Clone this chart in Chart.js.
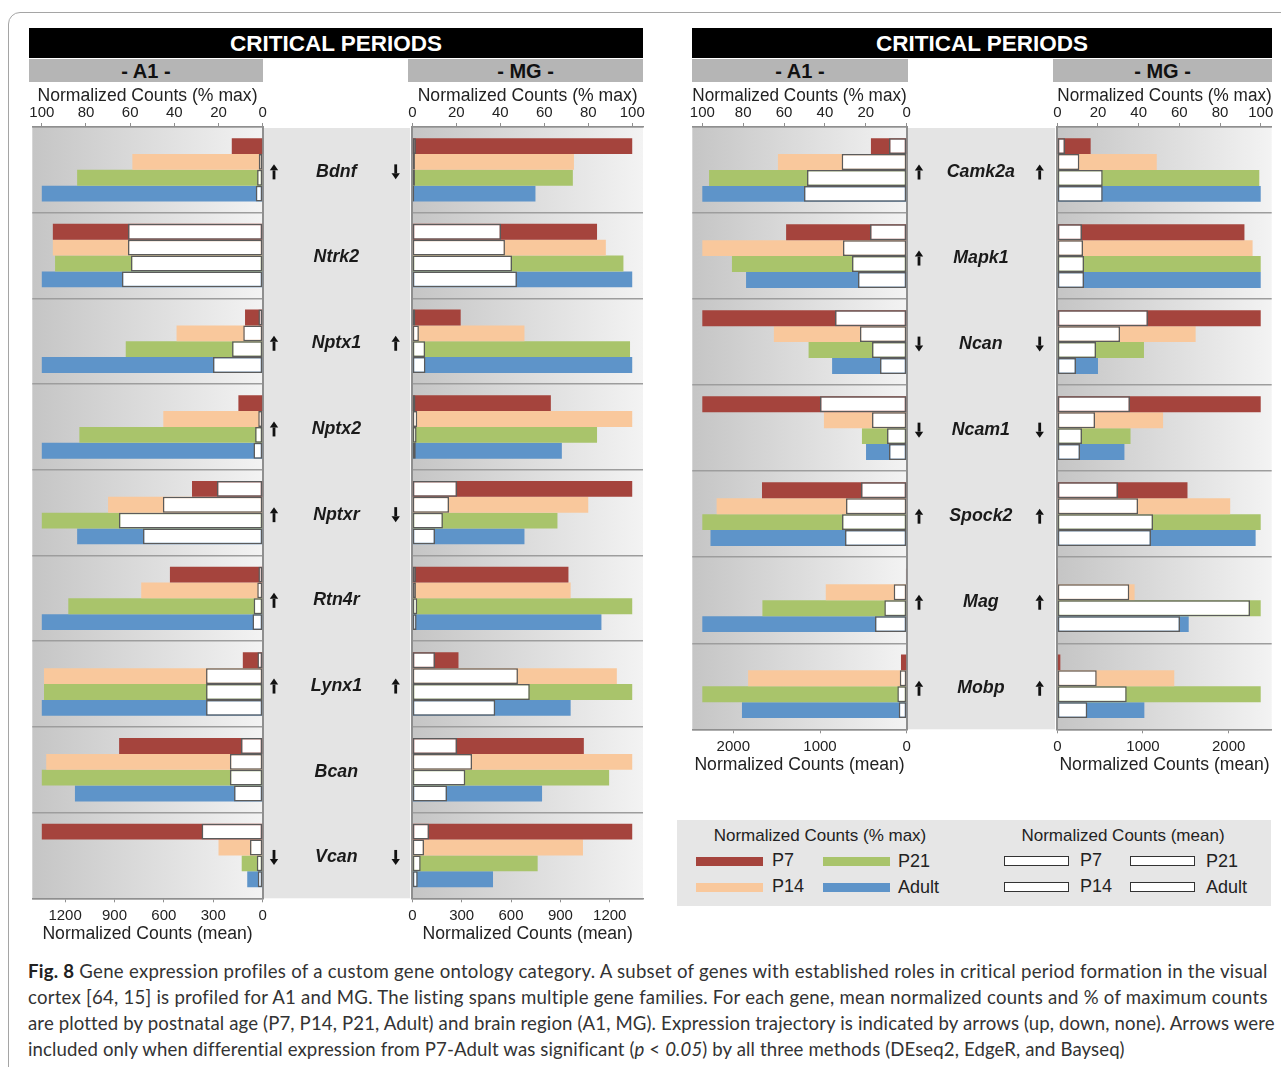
<!DOCTYPE html>
<html>
<head>
<meta charset="utf-8">
<title>Critical periods – gene expression profiles</title>
<script src="https://cdn.jsdelivr.net/npm/chart.js@4.4.1/dist/chart.umd.min.js"></script>
<style>
  html, body { margin: 0; padding: 0; background: #fff; }
  body { position: relative; width: 1281px; height: 1067px; overflow: hidden;
         font-family: "Liberation Sans", Arial, Helvetica, sans-serif; color: #222; }
  .frame { position: absolute; left: 8px; top: 12px; width: 1320px; height: 1100px;
           border: 1px solid #a5a5a5; border-radius: 12px; box-sizing: border-box; }
  .head { position: absolute; top: 28px; height: 30px; background: #000; color: #fff;
          font-weight: bold; font-size: 22.5px; line-height: 31px; text-align: center; }
  .sub { position: absolute; top: 59px; height: 23px; background: #b5b5b5; color: #111;
         font-weight: bold; font-size: 20px; line-height: 24px; text-align: center; }
  canvas { position: absolute; }
  .legend { position: absolute; left: 677px; top: 820px; width: 594px; height: 86px; background: #e6e6e6; }
  .legend .t { position: absolute; top: 6px; font-size: 17px; line-height: 20px; color: #222;
               white-space: nowrap; transform: translateX(-50%); }
  .legend .sw { position: absolute; width: 67px; height: 9px; }
  .legend .ow { position: absolute; width: 63px; height: 8px; background: #fff; border: 1.5px solid #333; }
  .legend .lb { position: absolute; font-size: 18px; line-height: 20px; color: #222; white-space: nowrap; }
  .caption { position: absolute; left: 28px; top: 958px; font-family: Lato, "Open Sans", sans-serif;
             font-size: 18.6px; color: #333; }
  .caption .ln { display: block; height: 26px; line-height: 26px; white-space: nowrap; }
  .caption .ln span.txt { white-space: nowrap; }
</style>
</head>
<body>
<div class="frame"></div>

<div class="head" style="left:29px;width:614px;">CRITICAL PERIODS</div>
<div class="sub" style="left:29px;width:234px;">- A1 -</div>
<div class="sub" style="left:408px;width:235px;">- MG -</div>

<div class="head" style="left:692px;width:580px;">CRITICAL PERIODS</div>
<div class="sub" style="left:692px;width:216px;">- A1 -</div>
<div class="sub" style="left:1053px;width:219px;">- MG -</div>

<canvas id="leftA1" width="382" height="866" style="left:28px;top:82px;width:382px;height:866px;"></canvas>
<canvas id="leftMG" width="246" height="866" style="left:400px;top:82px;width:246px;height:866px;"></canvas>
<canvas id="rightA1" width="371" height="697" style="left:684px;top:82px;width:371px;height:697px;"></canvas>
<canvas id="rightMG" width="236" height="697" style="left:1045px;top:82px;width:236px;height:697px;"></canvas>

<div class="legend">
  <div class="t" style="left:143px;">Normalized Counts (% max)</div>
  <div class="t" style="left:446px;">Normalized Counts (mean)</div>
  <div class="sw" style="left:19px;top:37px;background:#a5443d;"></div>
  <div class="lb" style="left:95px;top:30px;">P7</div>
  <div class="sw" style="left:146px;top:37px;background:#a9c46b;"></div>
  <div class="lb" style="left:221px;top:31px;">P21</div>
  <div class="sw" style="left:19px;top:63px;background:#f9c89c;"></div>
  <div class="lb" style="left:95px;top:56px;">P14</div>
  <div class="sw" style="left:146px;top:63px;background:#5e94c9;"></div>
  <div class="lb" style="left:221px;top:57px;">Adult</div>
  <div class="ow" style="left:327px;top:36px;"></div>
  <div class="lb" style="left:403px;top:30px;">P7</div>
  <div class="ow" style="left:453px;top:36px;"></div>
  <div class="lb" style="left:529px;top:31px;">P21</div>
  <div class="ow" style="left:327px;top:62px;"></div>
  <div class="lb" style="left:403px;top:56px;">P14</div>
  <div class="ow" style="left:453px;top:62px;"></div>
  <div class="lb" style="left:529px;top:57px;">Adult</div>
</div>

<div class="caption">
  <div class="ln" data-w="1240"><span class="txt"><b style="color:#222">Fig. 8</b> Gene expression profiles of a custom gene ontology category. A subset of genes with established roles in critical period formation in the visual</span></div>
  <div class="ln" data-w="1240"><span class="txt">cortex [64, 15] is profiled for A1 and MG. The listing spans multiple gene families. For each gene, mean normalized counts and % of maximum counts</span></div>
  <div class="ln" data-w="1246"><span class="txt">are plotted by postnatal age (P7, P14, P21, Adult) and brain region (A1, MG). Expression trajectory is indicated by arrows (up, down, none). Arrows were</span></div>
  <div class="ln" data-w="1096"><span class="txt">included only when differential expression from P7-Adult was significant (<i>p</i> &lt; <i>0.05</i>) by all three methods (DEseq2, EdgeR, and Bayseq)</span></div>
</div>

<script>
// ---- data -------------------------------------------------------------
const ages = ['P7', 'P14', 'P21', 'Adult'];
const ageColors = ['#a5443d', '#f9c89c', '#a9c46b', '#5e94c9'];

const genesLeft = ['Bdnf', 'Ntrk2', 'Nptx1', 'Nptx2', 'Nptxr', 'Rtn4r', 'Lynx1', 'Bcan', 'Vcan'];
const genesRight = ['Camk2a', 'Mapk1', 'Ncan', 'Ncam1', 'Spock2', 'Mag', 'Mobp'];

const pctTicks = [0, 20, 40, 60, 80, 100];
const countTicksLeft = [0, 300, 600, 900, 1200];
const countTicksRight = [0, 1000, 2000];

// rows: P7, P14, P21, Adult; columns follow the gene lists
const leftA1Pct = [
  [14, 95, 8, 11, 32, 42, 9, 65, 100],
  [59, 95, 39, 45, 70, 55, 99, 98, 20],
  [84, 94, 62, 83, 100, 88, 99, 100, 9.5],
  [100, 100, 100, 100, 84, 100, 100, 85, 7]
];
const leftA1Mean = [
  [6, 818, 26, 6, 278, 26, 32, 132, 371],
  [24, 818, 118, 27, 606, 33, 344, 199, 77],
  [34, 800, 186, 46, 873, 55, 344, 199, 36],
  [42, 855, 302, 56, 727, 62, 344, 174, 30]
];
const leftMGPct = [
  [100, 84, 22, 63, 100, 71, 21, 78, 100],
  [73.5, 88, 51, 100, 80, 72, 93, 100, 77.6],
  [73, 96, 99, 84, 66, 100, 100, 89.5, 57],
  [56, 100, 100, 68, 51, 86, 72, 59, 36.7]
];
const leftMGMean = [
  [22, 539, 18, 19, 272, 22, 138, 272, 102],
  [16, 563, 40, 30, 223, 22, 642, 363, 71],
  [16, 606, 78, 26, 186, 30, 714, 322, 51],
  [12, 636, 80, 21, 138, 26, 504, 211, 33]
];
const rightA1Pct = [
  [17.5, 59, 100, 100, 70.8, 0.3, 2.8],
  [63, 100, 65, 40.5, 93, 39.6, 77.6],
  [96.7, 85.5, 48, 21.9, 100, 70.6, 100],
  [100, 78.6, 36.5, 19.9, 96, 100, 80.6]
];
const rightA1Mean = [
  [204, 423, 827, 1000, 527, 10, 3],
  [750, 735, 539, 400, 700, 150, 80],
  [1150, 631, 400, 227, 746, 258, 108],
  [1185, 562, 308, 204, 712, 366, 92]
];
const rightMGPct = [
  [16.4, 92, 100, 100, 64, 0.3, 1.5],
  [48.9, 96, 68, 52, 85, 38, 57.5],
  [99.3, 100, 42.6, 36, 100, 100, 100],
  [100, 100, 20, 33, 97.5, 64.6, 42.8]
];
const rightMGMean = [
  [90, 288, 1058, 848, 708, 8, 12],
  [257, 300, 732, 440, 942, 840, 460],
  [530, 312, 452, 288, 1117, 2249, 810],
  [530, 312, 218, 265, 1093, 1432, 350]
];

// expression trajectory P7 -> Adult ('' = no significant change)
const leftArrowsA1 = ['up', '', 'up', 'up', 'up', 'up', 'up', '', 'down'];
const leftArrowsMG = ['down', '', 'up', '', 'down', '', 'up', '', 'down'];
const rightArrowsA1 = ['up', 'up', 'down', 'down', 'up', 'up', 'up'];
const rightArrowsMG = ['up', '', 'down', 'down', 'up', 'up', 'up'];

// ---- drawing helpers --------------------------------------------------
Chart.defaults.font.family = '"Liberation Sans", Arial, Helvetica, sans-serif';
Chart.defaults.color = '#222';

function drawArrow(ctx, x, y, dir) {
  if (!dir) return;
  const s = dir === 'up' ? -1 : 1;
  const tip = y + 7.5 * s, base = y + 1.5 * s, tail = y - 7.5 * s;
  ctx.save();
  ctx.strokeStyle = '#111';
  ctx.fillStyle = '#111';
  ctx.lineWidth = 2.8;
  ctx.beginPath();
  ctx.moveTo(x, tail);
  ctx.lineTo(x, base);
  ctx.stroke();
  ctx.beginPath();
  ctx.moveTo(x, tip);
  ctx.lineTo(x - 4.2, base);
  ctx.lineTo(x + 4.2, base);
  ctx.closePath();
  ctx.fill();
  ctx.restore();
}

// shaded plot area, plus the gene-name column for the A1 side
function decor(o) {
  return {
    id: 'decor',
    beforeDraw(chart) {
      const { ctx, chartArea: a } = chart;
      ctx.save();
      const g = ctx.createLinearGradient(a.left, 0, a.right, 0);
      g.addColorStop(0, '#c5c5c5');
      g.addColorStop(1, '#f3f3f3');
      ctx.fillStyle = g;
      ctx.fillRect(a.left, a.top, a.right - a.left, a.bottom - a.top);
      if (o.genes) {
        ctx.fillStyle = '#e4e4e4';
        ctx.fillRect(a.right, a.top + 1, o.middle, a.bottom - a.top - 1);
      }
      ctx.restore();
    },
    afterDraw(chart) {
      if (!o.genes) return;
      const { ctx, chartArea: a, scales: { y } } = chart;
      ctx.save();
      ctx.fillStyle = '#1a1a1a';
      ctx.font = 'italic bold 17.8px "Liberation Sans", Arial, sans-serif';
      ctx.textAlign = 'center';
      ctx.textBaseline = 'middle';
      o.genes.forEach((name, i) => {
        const py = y.getPixelForValue(i) + 2;
        ctx.fillText(name, a.right + o.middle / 2, py);
        drawArrow(ctx, a.right + o.arrowInset, py, o.arrowsA1[i]);
        drawArrow(ctx, a.right + o.middle - o.arrowInset - 3, py, o.arrowsMG[i]);
      });
      ctx.restore();
    }
  };
}

function makeChart(id, o) {
  const a1 = o.region === 'A1';
  const axisGrey = '#8f8f8f';
  const datasets = [];
  // outlined bars: mean normalized counts (drawn on top)
  ages.forEach((age, k) => datasets.push({
    label: age + ' (mean)', data: o.mean[k], xAxisID: 'xc', stack: age, order: 0,
    backgroundColor: '#ffffff', borderColor: '#5b5b5b', borderWidth: 1.5, borderSkipped: false,
    barPercentage: 1, categoryPercentage: 0.74
  }));
  // filled bars: % of maximum
  ages.forEach((age, k) => datasets.push({
    label: age + ' (% max)', data: o.pct[k], xAxisID: 'xp', stack: age, order: 1,
    backgroundColor: ageColors[k], borderWidth: 0,
    barPercentage: 1, categoryPercentage: 0.74
  }));

  return new Chart(document.getElementById(id), {
    type: 'bar',
    data: { labels: o.labels, datasets },
    options: {
      indexAxis: 'y',
      responsive: false,
      animation: false,
      events: [],
      layout: { padding: { left: o.padLeft, right: o.padRight, top: 0, bottom: 0 } },
      plugins: { legend: { display: false }, tooltip: { enabled: false } },
      scales: {
        y: {
          type: 'category', position: a1 ? 'right' : 'left', offset: true,
          grid: { offset: true, color: '#9d9d9d', lineWidth: 1.5, drawTicks: false },
          border: { display: true, color: axisGrey, width: 2 },
          ticks: { display: false },
          afterFit: s => { s.width = o.yWidth; s.paddingTop = 0; s.paddingBottom = 0; }
        },
        xp: {
          type: 'linear', position: 'top', reverse: a1, min: 0, max: o.pctMax, stacked: false,
          grid: { drawOnChartArea: false, drawTicks: true, tickLength: 4, color: axisGrey },
          border: { display: true, color: axisGrey, width: 1.5 },
          ticks: { font: { size: 15 }, color: '#222', padding: 1, maxRotation: 0, autoSkip: false,
                   callback: v => String(v) },
          afterBuildTicks: s => { s.ticks = pctTicks.map(v => ({ value: v })); },
          title: { display: true, text: 'Normalized Counts (% max)', font: { size: 17.6 }, color: '#222',
                   padding: { top: 3.6, bottom: 0 } },
          afterFit: s => { s.height = 45; s.paddingLeft = 0; s.paddingRight = 0; }
        },
        xc: {
          type: 'linear', position: 'bottom', reverse: a1, min: 0, max: o.countMax, stacked: false,
          grid: { drawOnChartArea: false, drawTicks: true, tickLength: 4, color: axisGrey },
          border: { display: true, color: axisGrey, width: 1.5 },
          ticks: { font: { size: 15 }, color: '#222', padding: 4.7, maxRotation: 0, autoSkip: false,
                   callback: v => String(v) },
          afterBuildTicks: s => { s.ticks = o.countTicks.map(v => ({ value: v })); },
          title: { display: true, text: 'Normalized Counts (mean)', font: { size: 17.6 }, color: '#222',
                   padding: { top: 0, bottom: 3 } },
          afterFit: s => { s.height = 49.7; s.paddingLeft = 0; s.paddingRight = 0; }
        }
      }
    },
    plugins: [decor(o)]
  });
}

makeChart('leftA1', {
  region: 'A1', labels: genesLeft, pct: leftA1Pct, mean: leftA1Mean,
  pctMax: 104.3, countMax: 1399, countTicks: countTicksLeft,
  padLeft: 4.3, padRight: 0, yWidth: 147.3,
  genes: genesLeft, middle: 147.3, arrowInset: 11.3, arrowsA1: leftArrowsA1, arrowsMG: leftArrowsMG
});
makeChart('leftMG', {
  region: 'MG', labels: genesLeft, pct: leftMGPct, mean: leftMGMean,
  pctMax: 104.9, countMax: 1402, countTicks: countTicksLeft,
  padLeft: 0, padRight: 3, yWidth: 12.3
});
makeChart('rightA1', {
  region: 'A1', labels: genesRight, pct: rightA1Pct, mean: rightA1Mean,
  pctMax: 104.9, countMax: 2473, countTicks: countTicksRight,
  padLeft: 8.3, padRight: 0, yWidth: 148.3,
  genes: genesRight, middle: 148.3, arrowInset: 12.3, arrowsA1: rightArrowsA1, arrowsMG: rightArrowsMG
});
makeChart('rightMG', {
  region: 'MG', labels: genesRight, pct: rightMGPct, mean: rightMGMean,
  pctMax: 105.4, countMax: 2502, countTicks: countTicksRight,
  padLeft: 0, padRight: 9.3, yWidth: 12.3
});

// spread each caption line to its column width
document.querySelectorAll('.caption .ln').forEach(ln => {
  const span = ln.querySelector('.txt');
  const target = +ln.dataset.w;
  const natural = span.getBoundingClientRect().width;
  const chars = span.textContent.length;
  span.style.letterSpacing = ((target - natural) / chars).toFixed(3) + 'px';
});
</script>
</body>
</html>
